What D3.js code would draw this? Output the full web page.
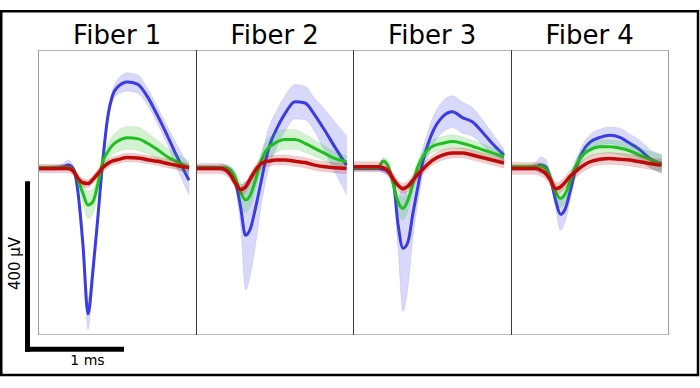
<!DOCTYPE html>
<html>
<head>
<meta charset="utf-8">
<script src="https://cdn.jsdelivr.net/npm/d3@7"></script>
<style>
  html, body { margin: 0; padding: 0; background: #fff; }
  svg { display: block; }
  text { font-family: "DejaVu Sans", Verdana, sans-serif; fill: #000; }
</style>
</head>
<body>
<svg id="chart" width="700" height="388"></svg>
<script>
// ---- data (time in ms, voltage in µV relative to baseline) ----
const fibers = ["Fiber 1", "Fiber 2", "Fiber 3", "Fiber 4"];
const times = [0, 0.1, 0.2, 0.25, 0.3, 0.35, 0.4, 0.45, 0.5, 0.55, 0.6, 0.65, 0.7, 0.75, 0.8, 0.9, 1.0, 1.1, 1.2, 1.3, 1.4, 1.52];

// Fiber 1
const f1Blue     = [-2,-2,0,2,6,-2,-61,-187,-348,-245,-117,18,121,173,192,204,199,169,125,77,26,-30];
const f1BlueSd   = [6,6,6,8,12,8,10,14,38,28,15,12,12,14,18,22,22,20,20,22,28,35];
const f1Green    = [0,0,0,0,0,-6,-30,-62,-89,-81,-38,14,38,54,63,71,69,58,43,26,14,0];
const f1GreenSd  = [5,5,5,5,6,8,15,25,32,30,22,18,20,22,25,27,28,25,22,20,18,16];
const f1Red      = [-2,-2,-2,-2,-2,-8,-26,-36,-38,-28,-14,0,10,16,19,24,23,19,15,10,5,0];
const f1RedSd    = [10,10,10,10,10,10,10,10,10,10,10,10,10,10,10,10,10,10,10,10,10,10];

// Fiber 2
const f2Blue     = [0,0,0,0,-2,-10,-34,-93,-161,-145,-97,-42,14,57,85,129,157,154,125,89,50,6];
const f2BlueSd   = [6,6,6,8,10,12,20,45,130,110,90,63,52,48,44,42,41,40,40,50,60,70];
const f2Green    = [0,0,0,0,0,-6,-26,-58,-77,-65,-30,10,38,51,59,67,67,58,46,34,22,14];
const f2GreenSd  = [5,5,5,5,5,8,15,25,30,28,24,22,22,23,24,24,24,22,20,18,16,15];
const f2Red      = [-2,-2,-2,-2,-6,-18,-38,-52,-46,-26,-6,8,14,16,18,18,15,12,6,2,0,-2];
const f2RedSd    = [12,12,12,12,12,12,12,12,12,12,12,12,12,12,12,12,12,12,12,12,12,12];

// Fiber 3
const f3Blue     = [-2,-2,-2,-2,-4,-10,-30,-135,-192,-177,-109,-46,14,54,85,121,133,119,109,85,58,30];
const f3BlueSd   = [6,6,6,6,8,10,15,60,150,110,60,40,32,30,33,37,38,37,34,30,24,15];
const f3Green    = [0,0,0,0,16,4,-38,-81,-97,-77,-38,2,26,42,51,58,62,58,51,43,35,26];
const f3GreenSd  = [5,5,5,5,8,10,15,22,28,25,20,16,14,14,15,16,16,15,14,14,13,13];
const f3Red      = [2,2,2,2,0,-8,-26,-42,-50,-44,-30,-16,-4,8,18,30,35,35,30,24,18,11];
const f3RedSd    = [12,12,12,12,12,12,12,12,12,12,12,12,12,12,12,12,12,12,12,12,12,12];

// Fiber 4
const f4Blue     = [-2,-2,0,2,6,2,-27,-77,-111,-97,-54,-6,26,48,61,72,77,72,58,43,22,10];
const f4BlueSd   = [6,6,6,10,20,18,12,20,38,30,22,18,16,17,18,20,20,22,22,22,22,22];
const f4Green    = [2,2,2,2,4,-2,-26,-58,-73,-61,-30,2,22,35,43,50,50,46,40,30,20,8];
const f4GreenSd  = [6,6,6,6,8,10,15,20,22,20,18,16,15,15,16,16,16,16,16,17,19,22];
const f4Red      = [-2,-2,-2,-2,-6,-14,-30,-50,-46,-34,-20,-10,0,8,14,20,22,20,18,14,10,6];
const f4RedSd    = [14,14,14,14,14,14,14,14,14,14,14,14,14,14,14,14,14,14,14,14,14,14];

const seriesColors = ["#3a3ae6", "#1fbf1f", "#c00a0a"];
const seriesWidths = [3, 3, 3.5];
const scaleBarUV = 400;
const scaleBarMs = 1;
const scaleBarLabels = ["400 µV", "1 ms"];

// ---- assembled structure built from the arrays above ----
const panels = [
  [[f1Blue, f1BlueSd], [f1Green, f1GreenSd], [f1Red, f1RedSd]],
  [[f2Blue, f2BlueSd], [f2Green, f2GreenSd], [f2Red, f2RedSd]],
  [[f3Blue, f3BlueSd], [f3Green, f3GreenSd], [f3Red, f3RedSd]],
  [[f4Blue, f4BlueSd], [f4Green, f4GreenSd], [f4Red, f4RedSd]]
];

// ---- layout ----
const svg = d3.select("#chart");
svg.append("rect").attr("width", 700).attr("height", 388).attr("fill", "#fff");

const plotLeft = 38.5, panelW = 157.5, plotTop = 50, plotBottom = 334;
const msSpan = 1.591; // ms across one panel
const y = d3.scaleLinear().domain([-396, 280]).range([plotBottom, plotTop]);

const defs = svg.append("defs");

panels.forEach((series, i) => {
  const left = plotLeft + i * panelW;
  const x = d3.scaleLinear().domain([0, msSpan]).range([left, left + panelW]);

  defs.append("clipPath").attr("id", "clip" + i)
    .append("rect").attr("x", left).attr("y", plotTop)
    .attr("width", panelW).attr("height", plotBottom - plotTop);

  const g = svg.append("g").attr("clip-path", `url(#clip${i})`);

  series.forEach(([mean, sd], k) => {
    const pts = times.map((t, j) => ({ t, v: mean[j], s: sd[j] }));
    const area = d3.area()
      .x(d => x(d.t)).y0(d => y(d.v - d.s)).y1(d => y(d.v + d.s))
      .curve(d3.curveMonotoneX);
    const line = d3.line()
      .x(d => x(d.t)).y(d => y(d.v))
      .curve(d3.curveMonotoneX);
    g.append("path").attr("d", area(pts))
      .attr("fill", seriesColors[k]).attr("fill-opacity", 0.2)
      .attr("stroke", seriesColors[k]).attr("stroke-opacity", 0.12).attr("stroke-width", 0.8);
    g.append("path").attr("d", line(pts))
      .attr("fill", "none").attr("stroke", seriesColors[k])
      .attr("stroke-width", seriesWidths[k]).attr("stroke-linejoin", "round").attr("stroke-linecap", "butt");
  });

  // panel title
  svg.append("text")
    .attr("x", left + panelW / 2).attr("y", 44)
    .attr("text-anchor", "middle").attr("font-size", 26)
    .text(fibers[i]);
});

// panel frames
const edges = d3.range(5).map(i => Math.floor(plotLeft + i * panelW) + 0.5);
svg.append("line").attr("x1", edges[0]).attr("x2", edges[4])
  .attr("y1", plotTop + 0.5).attr("y2", plotTop + 0.5).attr("stroke", "#b4b4b4");
svg.append("line").attr("x1", edges[0]).attr("x2", edges[4])
  .attr("y1", plotBottom + 0.5).attr("y2", plotBottom + 0.5).attr("stroke", "#bcbcbc");
edges.forEach((ex, i) => {
  svg.append("line").attr("x1", ex).attr("x2", ex)
    .attr("y1", plotTop).attr("y2", plotBottom + 1)
    .attr("stroke", (i === 0 || i === 4) ? "#a0a0a0" : "#3c3c3c");
});

// scale bars
const x1 = d3.scaleLinear().domain([0, msSpan]).range([0, panelW]);
const barX0 = 25, barY = 349.2, barT = 5;
const vLen = y(0) - y(scaleBarUV);
svg.append("line").attr("x1", barX0 + barT / 2).attr("x2", barX0 + barT / 2)
  .attr("y1", barY + barT / 2).attr("y2", barY - vLen)
  .attr("stroke", "#000").attr("stroke-width", barT);
svg.append("line").attr("x1", barX0).attr("x2", barX0 + x1(scaleBarMs))
  .attr("y1", barY).attr("y2", barY)
  .attr("stroke", "#000").attr("stroke-width", barT);

svg.append("text")
  .attr("transform", `translate(20,263.5) rotate(-90)`)
  .attr("text-anchor", "middle").attr("font-size", 15)
  .text(scaleBarLabels[0]);
svg.append("text")
  .attr("x", 87.5).attr("y", 365)
  .attr("text-anchor", "middle").attr("font-size", 14)
  .text(scaleBarLabels[1]);

// outer frame
svg.append("rect").attr("x", 1.25).attr("y", 11.25)
  .attr("width", 696.75).attr("height", 363.75)
  .attr("fill", "none").attr("stroke", "#000").attr("stroke-width", 2.5);
</script>
</body>
</html>
